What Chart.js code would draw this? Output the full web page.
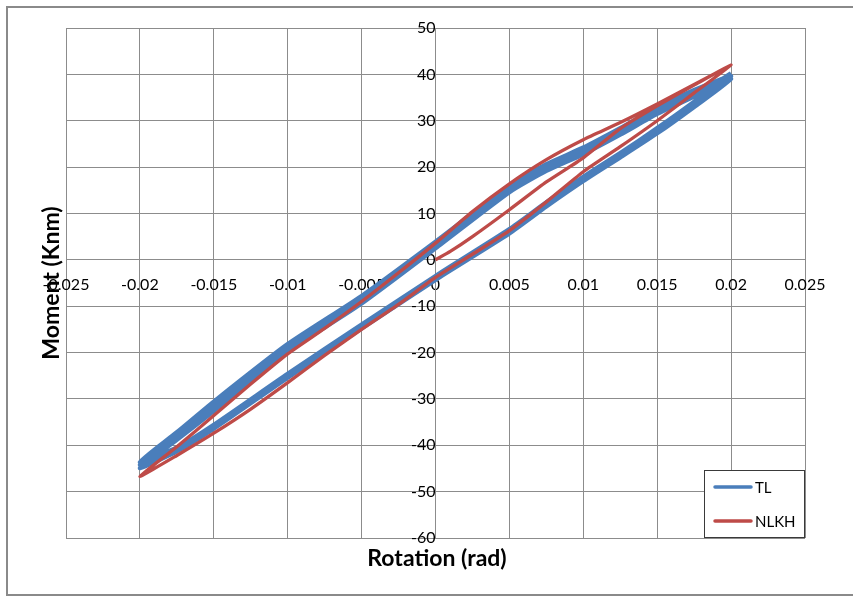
<!DOCTYPE html>
<html>
<head>
<meta charset="utf-8">
<script src="https://cdn.jsdelivr.net/npm/chart.js@4.4.1/dist/chart.umd.min.js"></script>
<style>
  html, body { margin: 0; padding: 0; background: #fff; }
</style>
</head>
<body>
<canvas id="hysteresis" width="853" height="596"></canvas>
<script>
// TL: three cycles, unloading then reloading
const tlRotation = [
  0.02, 0.0175, 0.015, 0.0125, 0.01, 0.0075, 0.005, 0, -0.005, -0.01, -0.015, -0.0175, -0.02,
  -0.0175, -0.015, -0.01, -0.005, 0, 0.005, 0.0075, 0.01, 0.0125, 0.015, 0.0175, 0.02,
  0.0175, 0.015, 0.0125, 0.01, 0.0075, 0.005, 0, -0.005, -0.01, -0.015, -0.0175, -0.02,
  -0.0175, -0.015, -0.01, -0.005, 0, 0.005, 0.0075, 0.01, 0.0125, 0.015, 0.0175, 0.02,
  0.0175, 0.015, 0.0125, 0.01, 0.0075, 0.005, 0, -0.005, -0.01, -0.015, -0.0175, -0.02,
  -0.0175, -0.015, -0.01, -0.005, 0, 0.005, 0.0075, 0.01, 0.0125, 0.015, 0.0175, 0.02
];
const tlMoment = [
  40.2, 34.1, 28.4, 23.0, 17.9, 12.4, 6.6, -3.5, -14.0, -24.6, -35.6, -40.5, -43.6,
  -37.2, -30.6, -18.2, -7.8, 3.9, 16.0, 20.6, 24.2, 28.4, 32.8, 36.6, 39.6,
  33.6, 27.9, 22.6, 17.5, 12.0, 6.2, -3.9, -14.4, -25.0, -36.0, -40.9, -44.2,
  -38.0, -31.6, -19.0, -8.6, 3.2, 15.3, 19.9, 23.5, 27.7, 32.1, 35.9, 39.0,
  33.0, 27.3, 22.1, 17.0, 11.5, 5.7, -4.3, -14.8, -25.4, -36.4, -41.3, -44.9,
  -38.8, -32.6, -19.8, -9.4, 2.5, 14.6, 19.2, 22.8, 27.0, 31.5, 35.3, 40.2
];

// NLKH: initial loading from origin, unloading, reloading
const nlkhRotation = [
  0, 0.001, 0.0025, 0.005, 0.0075, 0.01, 0.0125, 0.015, 0.0175, 0.02,
  0.0175, 0.015, 0.0125, 0.01, 0.0075, 0.005, 0.0025, 0, -0.0025, -0.005, -0.0075, -0.01, -0.0125, -0.015, -0.0175, -0.02,
  -0.0175, -0.015, -0.0125, -0.01, -0.0075, -0.005, -0.0025, 0, 0.0025, 0.005, 0.0075, 0.01, 0.0125, 0.015, 0.0175, 0.02
];
const nlkhMoment = [
  0, 1.8, 5.0, 10.8, 16.8, 22.0, 28.3, 33.2, 37.7, 42.0,
  36.0, 30.0, 24.4, 19.0, 12.5, 6.3, 1.2, -3.8, -9.6, -15.0, -20.6, -26.5, -32.2, -37.4, -42.2, -46.7,
  -40.3, -33.6, -26.8, -20.3, -14.8, -9.0, -2.8, 3.6, 10.4, 16.4, 21.6, 25.9, 29.6, 33.6, 37.8, 42.0
];

const seriesNames = ["TL", "NLKH"];
const xTitle = "Rotation (rad)";
const yTitle = "Moment (Knm)";

const toPoints = (xs, ys) => xs.map((x, i) => ({ x: x, y: ys[i] }));

const gridColor = "#8c8c8c";
const tickFont = { family: "Lato", size: 16 };

// white page, outer frame, axis titles and the boxed legend
const decorations = {
  id: "decorations",
  beforeDraw(chart) {
    const ctx = chart.ctx;
    ctx.save();
    ctx.fillStyle = "#fff";
    ctx.fillRect(0, 0, chart.width, chart.height);
    ctx.restore();
  },
  afterDraw(chart) {
    const ctx = chart.ctx;
    const area = chart.chartArea;
    ctx.save();

    ctx.strokeStyle = "#8a8a8a";
    ctx.lineWidth = 2;
    ctx.strokeRect(7, 7, 1000, 588);

    ctx.fillStyle = "#000";
    ctx.font = "bold 23px Lato";
    ctx.textAlign = "center";
    ctx.textBaseline = "alphabetic";
    ctx.fillText(xTitle, 437, 566);

    ctx.save();
    ctx.translate(59, (area.top + area.bottom) / 2);
    ctx.rotate(-Math.PI / 2);
    ctx.fillText(yTitle, 0, 0);
    ctx.restore();

    // legend box in the lower right corner of the plot
    const bx = 704.5, by = 470.5, bw = 100, bh = 67;
    ctx.fillStyle = "#fff";
    ctx.fillRect(bx, by, bw, bh);
    ctx.strokeStyle = "#3a3a3a";
    ctx.lineWidth = 1;
    ctx.strokeRect(bx, by, bw, bh);

    const rows = [487, 521];
    ctx.font = "15px Lato";
    ctx.textAlign = "left";
    ctx.textBaseline = "middle";
    chart.data.datasets.forEach((ds, i) => {
      ctx.strokeStyle = ds.borderColor;
      ctx.lineWidth = 3.5;
      ctx.lineCap = "round";
      ctx.beginPath();
      ctx.moveTo(715, rows[i]);
      ctx.lineTo(751, rows[i]);
      ctx.stroke();
      ctx.fillStyle = "#000";
      ctx.fillText(ds.label, 755, rows[i] + 1);
    });

    ctx.restore();
  }
};

new Chart(document.getElementById("hysteresis"), {
  type: "line",
  data: {
    datasets: [
      {
        label: seriesNames[0],
        data: toPoints(tlRotation, tlMoment),
        borderColor: "#4a7ebb",
        borderWidth: 4.5,
        pointRadius: 0,
        tension: 0.2,
        fill: false,
        order: 2
      },
      {
        label: seriesNames[1],
        data: toPoints(nlkhRotation, nlkhMoment),
        borderColor: "#be4b48",
        borderWidth: 3.3,
        pointRadius: 0,
        tension: 0.2,
        fill: false,
        order: 1
      }
    ]
  },
  options: {
    responsive: false,
    animation: false,
    devicePixelRatio: 1,
    layout: { padding: { left: 66, right: 48, top: 28, bottom: 58 } },
    plugins: {
      legend: { display: false },
      tooltip: { enabled: false }
    },
    scales: {
      x: {
        type: "linear",
        position: { y: 0 },
        min: -0.025,
        max: 0.025,
        ticks: {
          stepSize: 0.005,
          autoSkip: false,
          maxRotation: 0,
          padding: 15,
          color: "#000",
          font: tickFont,
          callback: (v) => String(+v.toFixed(3))
        },
        grid: { color: gridColor, drawTicks: false },
        border: { color: gridColor }
      },
      y: {
        type: "linear",
        position: { x: 0 },
        min: -60,
        max: 50,
        ticks: {
          stepSize: 10,
          autoSkip: false,
          padding: 17,
          color: "#000",
          font: tickFont,
          callback: (v) => String(v)
        },
        grid: { color: gridColor, drawTicks: false },
        border: { color: gridColor }
      }
    }
  },
  plugins: [decorations]
});
</script>
</body>
</html>
